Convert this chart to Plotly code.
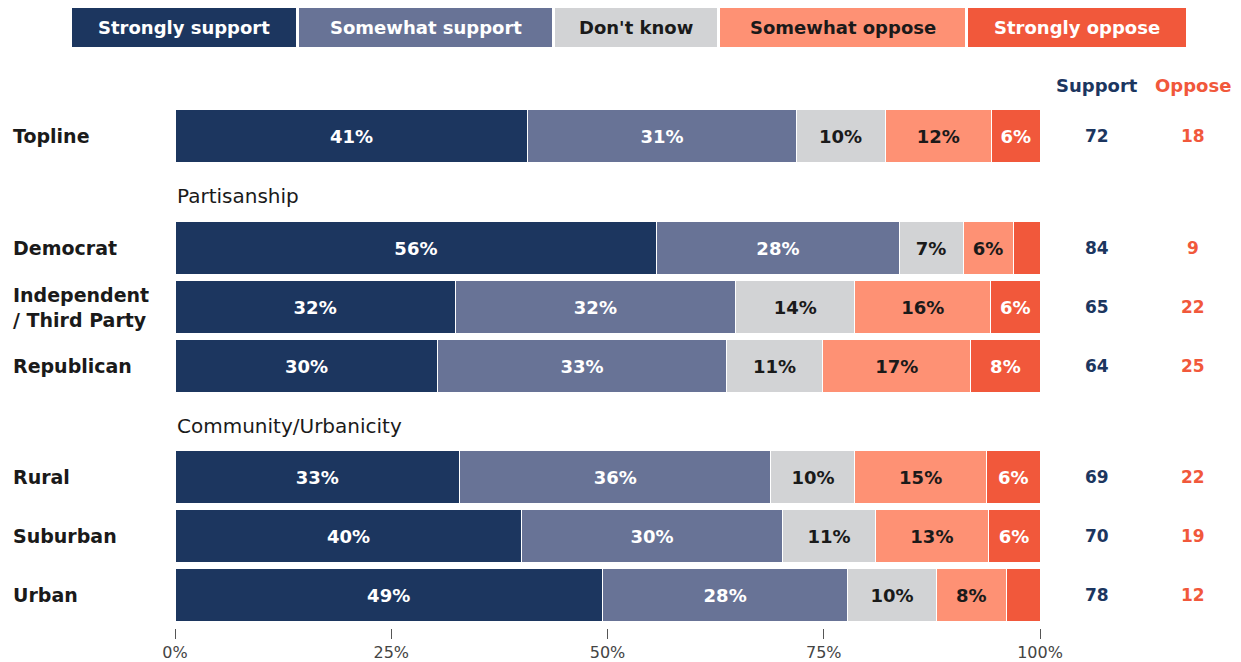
import plotly.graph_objects as go

# Response categories (stack order, left to right)
responses = ["Strongly support", "Somewhat support", "Don't know", "Somewhat oppose", "Strongly oppose"]
colors = ["#1c365f", "#687396", "#d2d3d5", "#fe9174", "#f1583b"]
label_colors = ["#ffffff", "#ffffff", "#1a1a1a", "#1a1a1a", "#ffffff"]

# Row groups
rows = ["Topline", "Democrat", "Independent<br>/ Third Party", "Republican", "Rural", "Suburban", "Urban"]
headers = ["Partisanship", "Community/Urbanicity"]

# Percent of respondents per row, one list per response
strongly_support = [40.8, 55.7, 32.4, 30.4, 32.9, 40.1, 49.4]
somewhat_support = [31.0, 28.0, 32.4, 33.3, 36.0, 30.1, 28.4]
dont_know = [10.3, 7.4, 13.8, 11.2, 9.7, 10.8, 10.2]
somewhat_oppose = [12.3, 5.8, 15.7, 17.1, 15.2, 13.0, 8.1]
strongly_oppose = [5.6, 3.1, 5.7, 8.0, 6.2, 6.0, 3.9]

# Net totals shown at right
support_totals = [72, 84, 65, 64, 69, 70, 78]
oppose_totals = [18, 9, 22, 25, 22, 19, 12]

# Axis ticks
tick_values = [0, 25, 50, 75, 100]
tick_labels = ["0%", "25%", "50%", "75%", "100%"]

series = [strongly_support, somewhat_support, dont_know, somewhat_oppose, strongly_oppose]

# Layout: vertical slot of each row (in row units) and of the group headers
row_pos = [0, 1.9, 2.9, 3.9, 5.78, 6.78, 7.78]
header_pos = [1.02, 4.92]

W, H = 1241, 662
ML, MR, MT, MB = 175, 201, 100, 34
PW, PH = W - ML - MR, H - MT - MB
UNIT = 59.0  # pixels per row unit
y_top = (MT - 136) / UNIT
y_bot = y_top + PH / UNIT

FONT = "DejaVu Sans"
DARK = "#1a1a1a"

fig = go.Figure()
for name, vals, col, tcol in zip(responses, series, colors, label_colors):
    fig.add_trace(go.Bar(
        name=name,
        x=vals,
        y=row_pos,
        orientation="h",
        width=0.9,
        marker=dict(color=col, line=dict(color="#ffffff", width=1)),
        text=[f"{v:.0f}%" if v >= 5 else "" for v in vals],
        textposition="inside",
        insidetextanchor="middle",
        textangle=0,
        constraintext="none",
        insidetextfont=dict(color=tcol, size=18, family=FONT, weight=700),
        hoverinfo="skip",
        showlegend=False,
    ))


def px_x(px):
    return (px - ML) / PW


def px_y(py):
    return (H - MB - py) / PH


annotations = []
shapes = []

# Row labels on the left
for lab, yp in zip(rows, row_pos):
    annotations.append(dict(
        x=px_x(11), xref="paper", y=yp, yref="y", text=lab, showarrow=False,
        xanchor="left", yanchor="middle", align="left",
        font=dict(family=FONT, size=19, color=DARK, weight=700),
    ))

# Group headers
for lab, yp in zip(headers, header_pos):
    annotations.append(dict(
        x=0, xref="paper", y=yp, yref="y", text=lab, showarrow=False,
        xanchor="left", yanchor="middle",
        font=dict(family=FONT, size=20, color=DARK, weight=400),
    ))

# Support / Oppose columns
sup_x, opp_x = px_x(1097), px_x(1193)
annotations.append(dict(x=sup_x, xref="paper", y=px_y(85), yref="paper", text="Support",
                        showarrow=False, xanchor="center", yanchor="middle",
                        font=dict(family=FONT, size=18, color=colors[0], weight=700)))
annotations.append(dict(x=opp_x, xref="paper", y=px_y(85), yref="paper", text="Oppose",
                        showarrow=False, xanchor="center", yanchor="middle",
                        font=dict(family=FONT, size=18, color=colors[4], weight=700)))
for s, o, yp in zip(support_totals, oppose_totals, row_pos):
    annotations.append(dict(x=sup_x, xref="paper", y=yp, yref="y", text=str(s), showarrow=False,
                            xanchor="center", yanchor="middle",
                            font=dict(family=FONT, size=17, color=colors[0], weight=700)))
    annotations.append(dict(x=opp_x, xref="paper", y=yp, yref="y", text=str(o), showarrow=False,
                            xanchor="center", yanchor="middle",
                            font=dict(family=FONT, size=17, color=colors[4], weight=700)))

# Legend boxes across the top
legend_edges = [(72, 296), (299, 552), (555, 717), (720, 965), (968, 1186)]
for name, col, tcol, (x0, x1) in zip(responses, colors, label_colors, legend_edges):
    shapes.append(dict(type="rect", xref="paper", yref="paper",
                       x0=px_x(x0), x1=px_x(x1), y0=px_y(47), y1=px_y(8),
                       fillcolor=col, line=dict(width=0), layer="above"))
    annotations.append(dict(x=(px_x(x0) + px_x(x1)) / 2, xref="paper", y=px_y(27.5), yref="paper",
                            text=name, showarrow=False, xanchor="center", yanchor="middle",
                            font=dict(family=FONT, size=18, color=tcol, weight=700)))

fig.update_layout(
    width=W, height=H,
    margin=dict(l=ML, r=MR, t=MT, b=MB, autoexpand=False),
    barmode="stack",
    plot_bgcolor="#ffffff",
    paper_bgcolor="#ffffff",
    font=dict(family=FONT, color=DARK),
    xaxis=dict(
        range=[0, 100], tickmode="array", tickvals=tick_values, ticktext=tick_labels,
        showgrid=False, zeroline=False, showline=False, automargin=False,
        ticks="outside", ticklen=10, tickwidth=1.2, tickcolor="#555555",
        tickfont=dict(family=FONT, size=16, color="#444444"),
        fixedrange=True,
    ),
    yaxis=dict(
        range=[y_bot, y_top], showticklabels=False, showgrid=False, automargin=False,
        zeroline=False, showline=False, fixedrange=True,
    ),
    annotations=annotations,
    shapes=shapes,
    showlegend=False,
)

fig.write_html("out.html")
